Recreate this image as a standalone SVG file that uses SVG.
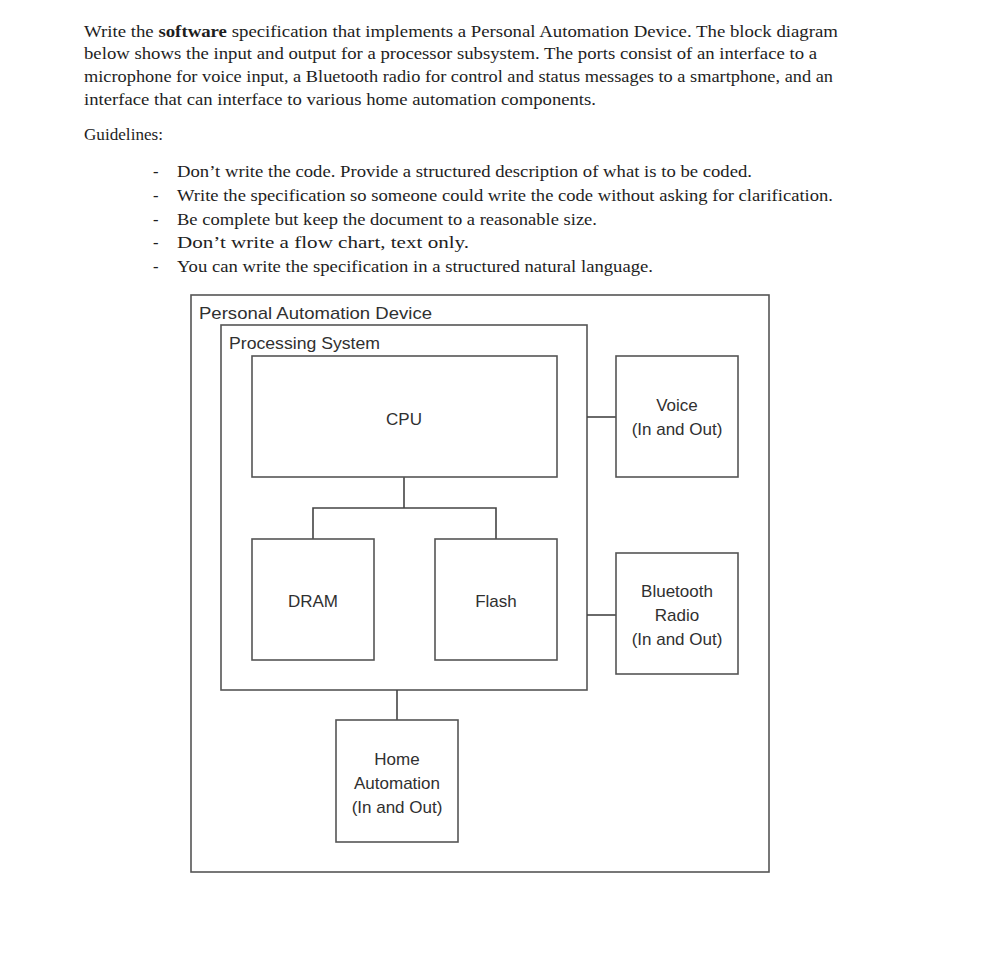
<svg xmlns="http://www.w3.org/2000/svg" width="991" height="954" viewBox="0 0 991 954">
<style>
.p{font-family:"Liberation Serif","Times New Roman",serif;font-size:16.5px;fill:#1e1e1e}
.l{font-family:"Liberation Sans",Arial,sans-serif;font-size:17px;fill:#303030}
.c{text-anchor:middle}
.b{fill:#fff;stroke:#555;stroke-width:1.6}
.w{fill:none;stroke:#444;stroke-width:1.6}
</style>
<rect width="991" height="954" fill="#fff"/>
<g id="intro">
<text class="p" x="84" y="37" textLength="754" lengthAdjust="spacingAndGlyphs">Write the <tspan font-weight="bold">software</tspan> specification that implements a Personal Automation Device.  The block diagram</text>
<text class="p" x="84" y="59" textLength="733" lengthAdjust="spacingAndGlyphs">below shows the input and output for a processor subsystem.  The ports consist of an interface to a</text>
<text class="p" x="84" y="82" textLength="749" lengthAdjust="spacingAndGlyphs">microphone for voice input, a Bluetooth radio for control and status messages to a smartphone, and an</text>
<text class="p" x="84" y="105" textLength="512" lengthAdjust="spacingAndGlyphs">interface that can interface to various home automation components.</text>
<text class="p" x="84" y="140" textLength="79" lengthAdjust="spacingAndGlyphs">Guidelines:</text>
<g>
<text class="p" x="153" y="177">-</text><text class="p" x="177" y="177" textLength="575" lengthAdjust="spacingAndGlyphs">Don’t write the code.  Provide a structured description of what is to be coded.</text>
<text class="p" x="153" y="201">-</text><text class="p" x="177" y="201" textLength="656" lengthAdjust="spacingAndGlyphs">Write the specification so someone could write the code without asking for clarification.</text>
<text class="p" x="153" y="225">-</text><text class="p" x="177" y="225" textLength="420" lengthAdjust="spacingAndGlyphs">Be complete but keep the document to a reasonable size.</text>
<text class="p" x="153" y="248">-</text><text class="p" x="177" y="248" textLength="292" lengthAdjust="spacingAndGlyphs">Don’t write a flow chart, text only.</text>
<text class="p" x="153" y="272">-</text><text class="p" x="177" y="272" textLength="476" lengthAdjust="spacingAndGlyphs">You can write the specification in a structured natural language.</text>
</g>
</g>
<g id="device">
<rect class="b" x="191" y="295" width="578" height="577"/>
<text class="l" x="199" y="319" textLength="233" lengthAdjust="spacingAndGlyphs">Personal Automation Device</text>
</g>
<g id="processing">
<rect class="b" x="221" y="325" width="366" height="365"/>
<text class="l" x="229" y="349" textLength="151" lengthAdjust="spacingAndGlyphs">Processing System</text>
</g>
<g id="connectors">
<polyline class="w" points="404,477 404,508"/>
<polyline class="w" points="313,539 313,508 496,508 496,539"/>
<line class="w" x1="587" y1="417" x2="616" y2="417"/>
<line class="w" x1="587" y1="615" x2="616" y2="615"/>
<line class="w" x1="397" y1="690" x2="397" y2="720"/>
</g>
<g id="cpu">
<rect class="b" x="252" y="356" width="305" height="121"/>
<text class="l c" x="404" y="425">CPU</text>
</g>
<g id="dram">
<rect class="b" x="252" y="539" width="122" height="121"/>
<text class="l c" x="313" y="607">DRAM</text>
</g>
<g id="flash">
<rect class="b" x="435" y="539" width="122" height="121"/>
<text class="l c" x="496" y="607">Flash</text>
</g>
<g id="voice">
<rect class="b" x="616" y="356" width="122" height="121"/>
<text class="l c" x="677" y="411">Voice</text>
<text class="l c" x="677" y="435">(In and Out)</text>
</g>
<g id="bluetooth">
<rect class="b" x="616" y="553" width="122" height="121"/>
<text class="l c" x="677" y="597">Bluetooth</text>
<text class="l c" x="677" y="621">Radio</text>
<text class="l c" x="677" y="645">(In and Out)</text>
</g>
<g id="home">
<rect class="b" x="336" y="720" width="122" height="122"/>
<text class="l c" x="397" y="765">Home</text>
<text class="l c" x="397" y="789">Automation</text>
<text class="l c" x="397" y="813">(In and Out)</text>
</g>
</svg>
